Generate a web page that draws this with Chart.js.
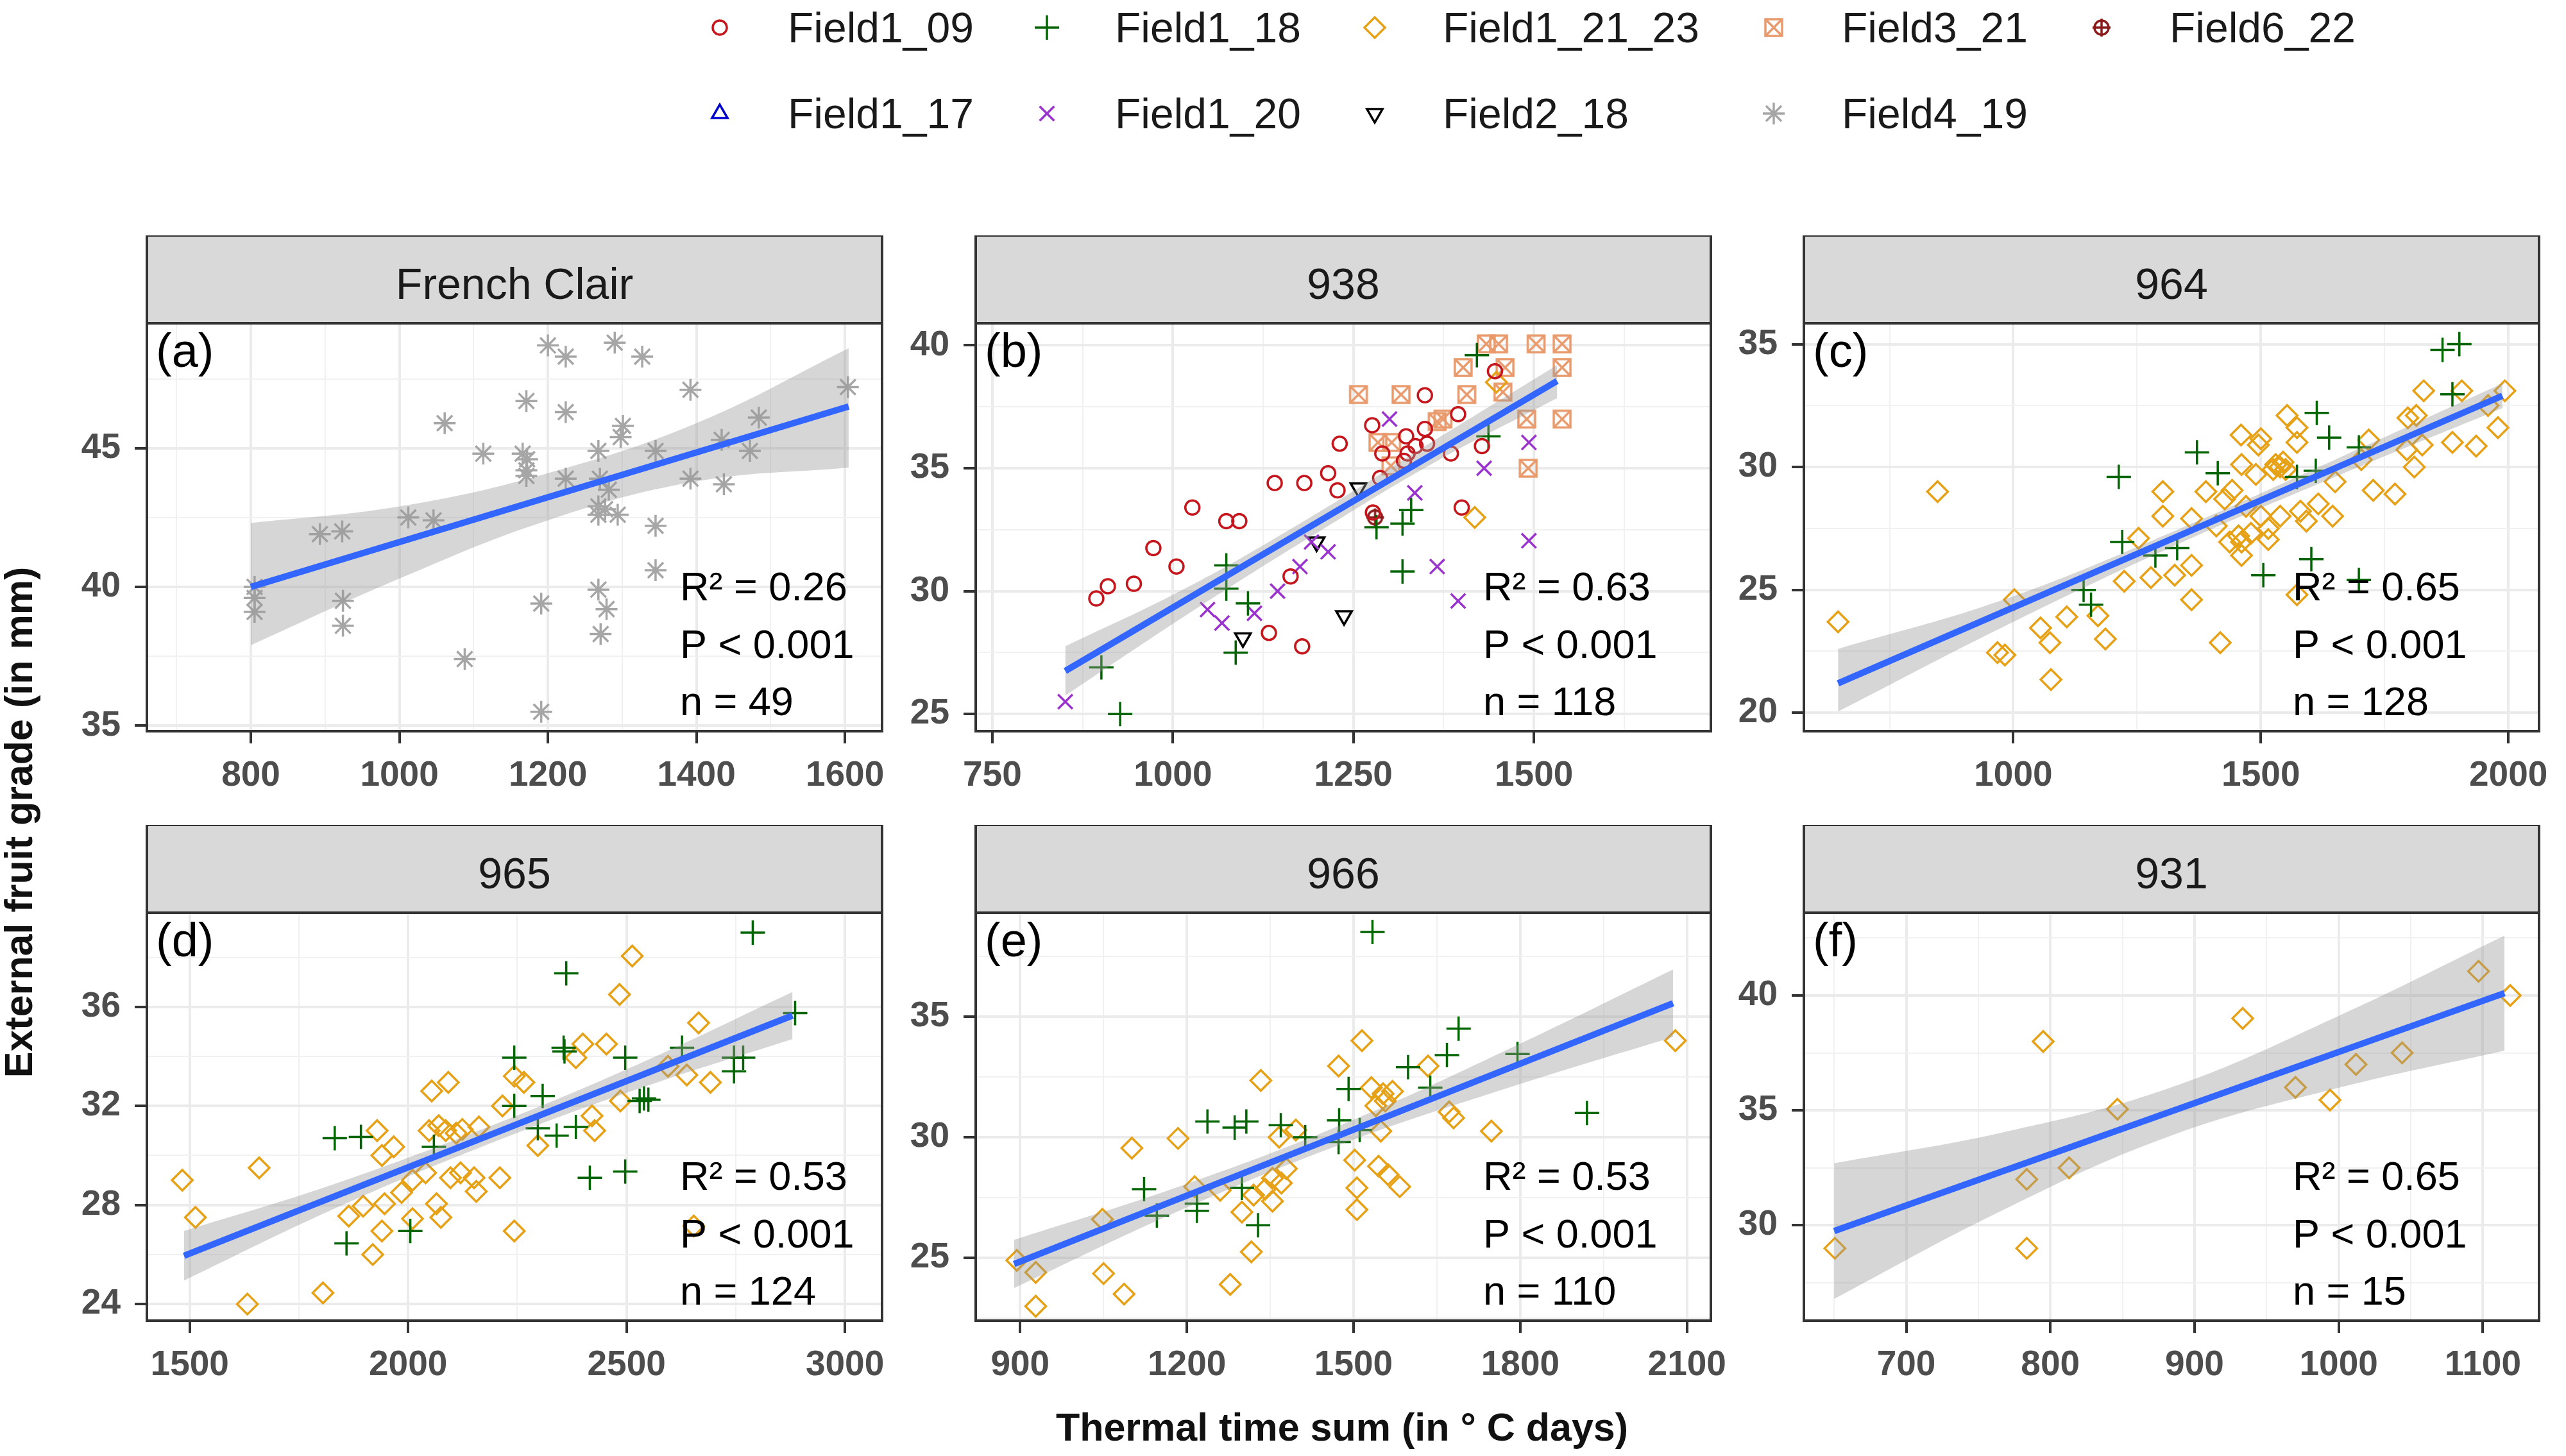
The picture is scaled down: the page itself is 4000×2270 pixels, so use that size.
<!doctype html>
<html>
<head>
<meta charset="utf-8">
<title>External fruit grade vs thermal time sum</title>
<script src="https://cdn.jsdelivr.net/npm/chart.js"></script>
<style>
  body { margin: 0; background: #fff; width: 4000px; height: 2270px; position: relative; overflow: hidden;
         font-family: "Liberation Sans", Arial, sans-serif; }
  canvas.panel { position: absolute; }
  .legsym { position: absolute; }
  .legtxt { position: absolute; font-size: 66px; color: #1a1a1a; line-height: 1; transform: translateY(-50%); white-space: nowrap; }
  .ytitle { position: absolute; font-weight: bold; font-size: 61px; color: #111; white-space: nowrap;
            transform: translate(-50%, -50%) rotate(-90deg); }
  .xtitle { position: absolute; font-weight: bold; font-size: 61px; color: #111; white-space: nowrap;
            transform: translate(-50%, -50%); }
</style>
</head>
<body>

<div class="ytitle" style="left:29px; top:1282px;">External fruit grade (in mm)</div>
<div class="xtitle" style="left:2092px; top:2225px;">Thermal time sum (in ° C days)</div>

<script>
// ---- data ----

// (a) French Clair
const a_Field4_19 = [[1200,48.7],[1224,48.3],[1290,48.8],[1327,48.3],[1392,47.1],[1604,47.2],[1171,46.7],[1224,46.3],
  [1061,45.9],[1301,45.8],[1298,45.4],[1484,46.1],[1113,44.8],[1166,44.8],[1172,44.6],[1171,44.2],[1171,44.0],
  [1268,44.9],[1345,44.9],[1472,44.9],[1434,45.3],[1224,43.9],[1270,43.9],[1392,43.9],[1437,43.7],[1282,43.5],
  [1268,42.9],[1268,42.6],[1294,42.6],[1277,42.8],[1345,42.2],[1012,42.5],[1046,42.4],[893,41.9],[923,42.0],
  [1345,40.6],[1268,39.9],[1279,39.2],[1271,38.3],[1191,39.4],[1088,37.4],[1191,35.5],[805,40.0],[805,39.6],
  [805,39.1],[924,39.5],[924,38.6]];
const a_fitX = [800, 1605];
const a_fitY = [40.0, 46.5];
const a_bandX = [800, 1000, 1200, 1400, 1605];
const a_bandLo = [37.9, 40.3, 42.4, 43.8, 44.3];
const a_bandHi = [42.3, 42.9, 44.1, 45.9, 48.6];
const a_stats = ['R² = 0.26', 'P < 0.001', 'n = 49'];

// (b) 938
const b_Field3_21 = [[1434,40.06],[1451,40.06],[1503,40.06],[1539,40.06],[1402,39.1],[1460,39.1],[1539,39.1],
  [1257,38.0],[1316,38.0],[1407,38.0],[1457,38.1],[1490,37.0],[1539,37.0],[1374,37.0],[1366,36.9],
  [1284,36.05],[1303,36.05],[1302,35.1],[1492,35.0]];
const b_Field1_09 = [[1446,38.95],[1349,37.97],[1395,37.2],[1276,36.75],[1349,36.6],[1231,36.0],[1323,36.3],
  [1336,35.9],[1352,36.0],[1325,35.6],[1290,35.6],[1385,35.6],[1428,35.9],[1320,35.3],[1287,34.6],[1215,34.8],
  [1141,34.4],[1182,34.4],[1228,34.1],[1400,33.4],[1277,33.2],[1027,33.4],[1074,32.85],[1092,32.85],[973,31.75],
  [1005,31.0],[910,30.2],[894,29.7],[946,30.3],[1163,30.6],[1133,28.3],[1179,27.75]];
const b_Field1_20 = [[1300,37.0],[1493,36.05],[1431,35.0],[1335,34.0],[1493,32.05],[1215,31.6],[1176,31.0],
  [1145,30.0],[1366,31.0],[1395,29.6],[1048,29.25],[1068,28.7],[1113,29.1],[1192,32.0],[851,25.5]];
const b_Field1_18 = [[1421,39.6],[1330,33.3],[1318,32.75],[1282,32.6],[1318,30.8],[1074,31.05],[1074,30.1],
  [1104,29.5],[1087,27.5],[901,26.9],[927,25.0],[1437,36.3]];
const b_Field2_18 = [[1257,34.2],[1199,32.0],[1237,29.0],[1097,28.1]];
const b_Field1_21_23 = [[1418,33.0],[1448,38.5]];
const b_Field6_22 = [[1280,33.0]];
const b_fitX = [851, 1532];
const b_fitY = [26.75, 38.55];
const b_bandX = [851, 1020, 1190, 1360, 1532];
const b_bandLo = [25.75, 29.05, 32.2, 35.2, 37.85];
const b_bandHi = [27.75, 30.15, 33.0, 36.1, 39.2];
const b_stats = ['R² = 0.63', 'P < 0.001', 'n = 118'];

// (c) 964
const c_Field1_18 = [[1867,34.77],[1901,35.0],[1887,32.96],[1613,32.2],[1638,31.2],[1698,30.8],[1371,30.6],
  [1413,29.75],[1213,29.6],[1573,29.6],[1611,29.85],[1220,26.95],[1287,26.4],[1331,26.7],[1505,25.6],
  [1602,26.25],[1698,25.4],[1157,24.4],[1142,25.0]];
const c_Field1_21_23 = [[847,29.0],[646,23.7],[1829,33.1],[1906,33.1],[1993,33.1],[1814,32.1],[1887,31.0],
  [1979,31.6],[1810,30.0],[1727,29.05],[1771,28.9],[1553,32.1],[1573,31.6],[1573,31.0],[1500,31.15],[1495,30.9],
  [1461,30.1],[1539,30.0],[1490,29.7],[1442,29.05],[1389,29.0],[1302,29.0],[1650,29.4],[1616,28.5],[1645,28.0],
  [1539,28.0],[1515,27.5],[1500,28.0],[1302,28.0],[1360,27.9],[1253,27.1],[1461,26.95],[1437,26.95],[1515,27.05],
  [1461,26.4],[1360,26.0],[1326,25.6],[1278,25.5],[1224,25.35],[1360,24.6],[1171,23.95],[1108,23.9],[1002,24.6],
  [1055,23.45],[1074,22.85],[1186,23.0],[983,22.35],[968,22.45],[1076,21.35],[1418,22.85],[1573,24.8],[1427,28.7],
  [1826,30.9],[1797,32.0],[1718,31.1],[1935,30.85],[1959,32.5],[1703,30.3],[1795,30.7],[1525,29.9],[1545,30.2],
  [1470,28.4],[1480,27.3],[1410,27.6],[1592,27.8],[1460,31.3],[1530,30.1],[1550,29.9],[1580,28.2],[1455,27.2]];
const c_fitX = [646, 1988];
const c_fitY = [21.2, 32.9];
const c_bandX = [646, 980, 1320, 1650, 1988];
const c_bandLo = [20.05, 23.5, 26.75, 29.6, 32.4];
const c_bandHi = [22.6, 24.6, 27.35, 30.3, 33.4];
const c_stats = ['R² = 0.65', 'P < 0.001', 'n = 128'];

// (d) 965
const d_Field1_18 = [[2789,39.0],[2362,37.35],[2886,35.75],[2356,34.35],[2358,34.2],[2243,33.95],[2497,33.95],
  [2627,34.35],[2746,33.95],[2767,33.95],[2746,33.4],[2308,32.4],[2243,32.0],[2540,32.3],[2530,32.2],[2550,32.25],
  [2384,31.15],[2297,31.1],[2340,30.8],[2059,30.35],[1892,30.75],[1832,30.7],[2416,29.1],[2497,29.35],
  [2005,26.95],[1859,26.45]];
const d_Field1_21_23 = [[2513,38.05],[2484,36.5],[2665,35.35],[2400,34.5],[2454,34.5],[2384,33.95],[2692,32.95],
  [2638,33.25],[2243,33.2],[2265,32.95],[2092,32.95],[2054,32.6],[2216,32.0],[2421,31.6],[2427,31.0],[1929,31.0],
  [2048,31.0],[2086,31.0],[2124,31.05],[2162,31.15],[1967,30.35],[1940,30.0],[2297,30.4],[1659,29.5],[1483,29.0],
  [2210,29.1],[2151,29.1],[2097,29.1],[2010,29.0],[2156,28.55],[2065,28.05],[1946,28.05],[1897,27.95],[1864,27.55],
  [2075,27.5],[2010,27.45],[1940,26.95],[2243,26.95],[1513,27.5],[1919,26.0],[1805,24.45],[1632,24.0],[2654,27.15],
  [2486,32.2],[2070,31.2],[2110,30.9],[2040,29.3],[2120,29.3],[1985,28.5],[2595,33.6]];
const d_fitX = [1487, 2880];
const d_fitY = [25.95, 35.65];
const d_bandX = [1487, 1830, 2180, 2530, 2880];
const d_bandLo = [24.95, 27.84, 30.43, 32.71, 34.7];
const d_bandHi = [26.95, 28.84, 31.13, 33.71, 36.6];
const d_stats = ['R² = 0.53', 'P < 0.001', 'n = 124'];

// (e) 966
const e_Field1_18 = [[1534,38.5],[1689,34.5],[1668,33.4],[1598,32.9],[1795,33.45],[1491,32.0],[1638,32.05],
  [1920,31.0],[1237,30.65],[1286,30.4],[1307,30.65],[1369,30.5],[1474,30.7],[1413,30.0],[1511,30.3],[1473,29.8],
  [1123,27.85],[1146,26.75],[1218,27.25],[1218,26.95],[1328,26.35],[1299,27.9]];
const e_Field1_21_23 = [[2079,34.0],[1515,34.0],[1473,32.95],[1634,32.95],[1333,32.35],[1532,32.05],[1553,31.8],
  [1557,31.5],[1672,31.05],[1748,30.25],[1184,29.95],[1101,29.55],[1396,30.3],[1366,30.0],[1549,30.25],[1502,29.05],
  [1545,28.8],[1562,28.45],[1583,27.95],[1506,27.9],[1506,27.0],[1379,28.7],[1354,28.3],[1341,27.85],[1354,27.35],
  [1260,27.8],[1299,26.9],[1214,27.95],[1048,26.6],[1316,25.25],[894,24.9],[928,24.4],[1050,24.35],[1087,23.5],
  [1278,23.9],[928,23.0],[1540,31.3],[1570,31.9],[1680,30.8],[1370,28.1],[1320,27.6]];
const e_fitX = [889, 2075];
const e_fitY = [24.75, 35.55];
const e_bandX = [889, 1190, 1480, 1780, 2075];
const e_bandLo = [23.75, 26.99, 29.73, 32.06, 34.15];
const e_bandHi = [25.75, 27.99, 30.53, 33.66, 36.95];
const e_stats = ['R² = 0.53', 'P < 0.001', 'n = 110'];

// (f) 931
const f_Field1_21_23 = [[650.5,29.0],[783.6,29.0],[783.6,32.0],[813,32.5],[795,38.0],[846.5,35.05],[933.4,39.0],
  [970,36.0],[994,35.45],[1012,37.0],[1044,37.5],[1097,41.05],[1119,40.0]];
const f_fitX = [650, 1115];
const f_fitY = [29.75, 40.1];
const f_bandX = [650, 766, 882, 998, 1115];
const f_bandLo = [26.8, 30.63, 33.86, 35.95, 37.6];
const f_bandHi = [32.7, 34.03, 35.96, 39.05, 42.6];
const f_stats = ['R² = 0.65', 'P < 0.001', 'n = 15'];

// axis ranges and breaks
const a_xRange = [660, 1650], a_yRange = [34.8, 49.5];
const a_xMajor = [800, 1000, 1200, 1400, 1600], a_xMinor = [700, 900, 1100, 1300, 1500];
const a_yMajor = [35, 40, 45], a_yMinor = [37.5, 42.5, 47.5];
const b_xRange = [727, 1745], b_yRange = [24.3, 40.9];
const b_xMajor = [750, 1000, 1250, 1500], b_xMinor = [875, 1125, 1375, 1625];
const b_yMajor = [25, 30, 35, 40], b_yMinor = [27.5, 32.5, 37.5];
const c_xRange = [577, 2062], c_yRange = [19.25, 35.85];
const c_xMajor = [1000, 1500, 2000], c_xMinor = [750, 1250, 1750];
const c_yMajor = [20, 25, 30, 35], c_yMinor = [22.5, 27.5, 32.5];
const d_xRange = [1402, 3085], d_yRange = [23.33, 39.8];
const d_xMajor = [1500, 2000, 2500, 3000], d_xMinor = [1750, 2250, 2750];
const d_yMajor = [24, 28, 32, 36], d_yMinor = [26, 30, 34, 38];
const e_xRange = [820, 2143], e_yRange = [22.4, 39.3];
const e_xMajor = [900, 1200, 1500, 1800, 2100], e_xMinor = [1050, 1350, 1650, 1950];
const e_yMajor = [25, 30, 35], e_yMinor = [22.5, 27.5, 32.5, 37.5];
const f_xRange = [629, 1139], f_yRange = [25.85, 43.6];
const f_xMajor = [700, 800, 900, 1000, 1100], f_xMinor = [650, 750, 850, 950, 1050];
const f_yMajor = [30, 35, 40], f_yMinor = [27.5, 32.5, 37.5, 42.5];

const legendRow1 = ['Field1_09', 'Field1_18', 'Field1_21_23', 'Field3_21', 'Field6_22'];
const legendRow2 = ['Field1_17', 'Field1_20', 'Field2_18', 'Field4_19'];

// ---- styling ----
Chart.defaults.font.family = '"Liberation Sans", Arial, sans-serif';

function squareCross(color) {
  const c = document.createElement('canvas');
  c.width = c.height = 32;
  const g = c.getContext('2d');
  g.strokeStyle = color; g.lineWidth = 3.5;
  g.strokeRect(3, 3, 26, 26);
  g.beginPath(); g.moveTo(4, 4); g.lineTo(28, 28); g.moveTo(28, 4); g.lineTo(4, 28); g.stroke();
  return c;
}
function circlePlus(color) {
  const c = document.createElement('canvas');
  c.width = c.height = 32;
  const g = c.getContext('2d');
  g.strokeStyle = color; g.lineWidth = 3.5;
  g.beginPath(); g.arc(16, 16, 11, 0, Math.PI * 2); g.stroke();
  g.beginPath(); g.moveTo(16, 2); g.lineTo(16, 30); g.moveTo(2, 16); g.lineTo(30, 16); g.stroke();
  return c;
}

const SERIES = {
  Field1_09:    { color: '#C4161C', style: 'circle',   r: 11 },
  Field1_18:    { color: '#006400', style: 'cross',    r: 19 },
  Field1_21_23: { color: '#E6A117', style: 'rectRot',  r: 16 },
  Field3_21:    { color: '#E99A6C', style: squareCross('#E99A6C'), r: 15 },
  Field6_22:    { color: '#8B1A1A', style: circlePlus('#8B1A1A'), r: 15 },
  Field1_17:    { color: '#0000CD', style: 'triangle', r: 14 },
  Field1_20:    { color: '#9A32CD', style: 'crossRot', r: 16 },
  Field2_18:    { color: '#000000', style: 'triangle', r: 14, rot: 180 },
  Field4_19:    { color: '#A6A6A6', style: 'star',     r: 17 },
};

// ---- layout ----
const AXW = 220, XAH = 110, STRIP = 137, PADR = 90;
const PANEL_W = 1146, PANEL_H = 636;
const COL_X = [229, 1521, 2812];
const ROW_Y = [504, 1423];

const panels = [
  { title: 'French Clair', tag: '(a)', col: 0, row: 0, statsOff: 315,
    series: { Field4_19: a_Field4_19 },
    fitX: a_fitX, fitY: a_fitY, bandX: a_bandX, bandLo: a_bandLo, bandHi: a_bandHi, stats: a_stats,
    xRange: a_xRange, yRange: a_yRange, xMajor: a_xMajor, xMinor: a_xMinor, yMajor: a_yMajor, yMinor: a_yMinor },
  { title: '938', tag: '(b)', col: 1, row: 0, statsOff: 355,
    series: { Field1_09: b_Field1_09, Field1_18: b_Field1_18, Field1_21_23: b_Field1_21_23, Field3_21: b_Field3_21,
              Field6_22: b_Field6_22, Field1_20: b_Field1_20, Field2_18: b_Field2_18 },
    fitX: b_fitX, fitY: b_fitY, bandX: b_bandX, bandLo: b_bandLo, bandHi: b_bandHi, stats: b_stats,
    xRange: b_xRange, yRange: b_yRange, xMajor: b_xMajor, xMinor: b_xMinor, yMajor: b_yMajor, yMinor: b_yMinor },
  { title: '964', tag: '(c)', col: 2, row: 0, statsOff: 384,
    series: { Field1_18: c_Field1_18, Field1_21_23: c_Field1_21_23 },
    fitX: c_fitX, fitY: c_fitY, bandX: c_bandX, bandLo: c_bandLo, bandHi: c_bandHi, stats: c_stats,
    xRange: c_xRange, yRange: c_yRange, xMajor: c_xMajor, xMinor: c_xMinor, yMajor: c_yMajor, yMinor: c_yMinor },
  { title: '965', tag: '(d)', col: 0, row: 1, statsOff: 315,
    series: { Field1_18: d_Field1_18, Field1_21_23: d_Field1_21_23 },
    fitX: d_fitX, fitY: d_fitY, bandX: d_bandX, bandLo: d_bandLo, bandHi: d_bandHi, stats: d_stats,
    xRange: d_xRange, yRange: d_yRange, xMajor: d_xMajor, xMinor: d_xMinor, yMajor: d_yMajor, yMinor: d_yMinor },
  { title: '966', tag: '(e)', col: 1, row: 1, statsOff: 355,
    series: { Field1_18: e_Field1_18, Field1_21_23: e_Field1_21_23 },
    fitX: e_fitX, fitY: e_fitY, bandX: e_bandX, bandLo: e_bandLo, bandHi: e_bandHi, stats: e_stats,
    xRange: e_xRange, yRange: e_yRange, xMajor: e_xMajor, xMinor: e_xMinor, yMajor: e_yMajor, yMinor: e_yMinor },
  { title: '931', tag: '(f)', col: 2, row: 1, statsOff: 384,
    series: { Field1_21_23: f_Field1_21_23 },
    fitX: f_fitX, fitY: f_fitY, bandX: f_bandX, bandLo: f_bandLo, bandHi: f_bandHi, stats: f_stats,
    xRange: f_xRange, yRange: f_yRange, xMajor: f_xMajor, xMinor: f_xMinor, yMajor: f_yMajor, yMinor: f_yMinor },
];

// strip, panel border, tag and stats text
const facetPlugin = {
  id: 'facet',
  afterDraw(chart, args, opts) {
    const { ctx, chartArea: ca } = chart;
    ctx.save();
    // strip
    ctx.fillStyle = '#D9D9D9';
    ctx.fillRect(ca.left, ca.top - STRIP, ca.right - ca.left, STRIP);
    ctx.lineWidth = 4;
    ctx.strokeStyle = '#333333';
    ctx.strokeRect(ca.left, ca.top - STRIP, ca.right - ca.left, STRIP);
    ctx.fillStyle = '#1A1A1A';
    ctx.font = '68px "Liberation Sans", Arial, sans-serif';
    ctx.textAlign = 'center';
    ctx.textBaseline = 'middle';
    ctx.fillText(opts.title, (ca.left + ca.right) / 2, ca.top - STRIP / 2 + 12);
    // panel border
    ctx.strokeRect(ca.left, ca.top, ca.right - ca.left, ca.bottom - ca.top);
    // tag
    ctx.fillStyle = '#000';
    ctx.textAlign = 'left';
    ctx.font = '74px "Liberation Sans", Arial, sans-serif';
    ctx.fillText(opts.tag, ca.left + 14, ca.top + 48);
    // stats
    ctx.font = '63px "Liberation Sans", Arial, sans-serif';
    const offs = [221, 131, 42];
    opts.stats.forEach((s, i) => ctx.fillText(s, ca.right - opts.statsOff, ca.bottom - offs[i]));
    ctx.restore();
  }
};

function axis(range, major, minor, isX) {
  const all = major.concat(minor).sort((p, q) => p - q);
  const isMajor = c => c.tick && major.includes(c.tick.value);
  return {
    type: 'linear',
    position: isX ? 'bottom' : 'left',
    min: range[0], max: range[1],
    afterBuildTicks: s => { s.ticks = all.map(v => ({ value: v })); },
    afterFit: s => { if (isX) s.height = XAH; else s.width = AXW; },
    border: { display: false },
    grid: {
      color: c => isMajor(c) ? '#EBEBEB' : '#F1F1F1',
      lineWidth: c => isMajor(c) ? 4 : 2,
      drawTicks: true,
      tickLength: 19,
      tickWidth: 4,
      tickColor: c => isMajor(c) ? '#333333' : 'rgba(0,0,0,0)',
    },
    ticks: {
      autoSkip: false, maxRotation: 0, minRotation: 0,
      padding: isX ? 18 : 22,
      color: '#4D4D4D',
      font: { size: 55, weight: 'bold' },
      callback: v => major.includes(v) ? String(v) : '',
    },
  };
}

panels.forEach(p => {
  const cv = document.createElement('canvas');
  cv.className = 'panel';
  cv.width = AXW + PANEL_W + PADR;
  cv.height = STRIP + PANEL_H + XAH;
  cv.style.left = (COL_X[p.col] - AXW) + 'px';
  cv.style.top = (ROW_Y[p.row] - STRIP) + 'px';
  document.body.appendChild(cv);

  const datasets = [
    { type: 'line', data: p.fitX.map((x, i) => ({ x, y: p.fitY[i] })), borderColor: '#3366FF',
      borderWidth: 10, pointRadius: 0, fill: false, tension: 0, order: 0 },
    { type: 'line', data: p.bandX.map((x, i) => ({ x, y: p.bandLo[i] })), borderWidth: 0,
      borderColor: 'rgba(0,0,0,0)', pointRadius: 0, fill: false, tension: 0.4, order: 1 },
    { type: 'line', data: p.bandX.map((x, i) => ({ x, y: p.bandHi[i] })), borderWidth: 0,
      borderColor: 'rgba(0,0,0,0)', pointRadius: 0, fill: '-1', backgroundColor: 'rgba(153,153,153,0.4)',
      tension: 0.4, order: 1 },
  ];
  Object.entries(p.series).forEach(([name, pts]) => {
    const st = SERIES[name];
    datasets.push({
      type: 'scatter', label: name,
      data: pts.map(([x, y]) => ({ x, y })),
      pointStyle: st.style, pointRadius: st.r, pointRotation: st.rot || 0,
      borderColor: st.color, backgroundColor: 'rgba(0,0,0,0)', pointBorderWidth: 3.5, order: 2,
    });
  });

  new Chart(cv, {
    type: 'scatter',
    data: { datasets },
    options: {
      responsive: false, animation: false, devicePixelRatio: 1, events: [],
      layout: { padding: { top: STRIP, right: PADR, left: 0, bottom: 0 } },
      scales: {
        x: axis(p.xRange, p.xMajor, p.xMinor, true),
        y: axis(p.yRange, p.yMajor, p.yMinor, false),
      },
      plugins: {
        legend: { display: false }, tooltip: { enabled: false },
        facet: { title: p.title, tag: p.tag, stats: p.stats, statsOff: p.statsOff },
      },
    },
    plugins: [facetPlugin],
  });
});

// ---- legend (two rows, symbols drawn with Chart.js point helper) ----
const LEG_X = [1122, 1632, 2143, 2765, 3276];
const LEG_Y = [43, 177];
[legendRow1, legendRow2].forEach((row, ri) => {
  row.forEach((name, ci) => {
    const st = SERIES[name];
    const c = document.createElement('canvas');
    c.width = c.height = 60;
    c.className = 'legsym';
    c.style.left = (LEG_X[ci] - 30) + 'px';
    c.style.top = (LEG_Y[ri] - 30) + 'px';
    document.body.appendChild(c);
    const g = c.getContext('2d');
    g.strokeStyle = st.color; g.fillStyle = 'rgba(0,0,0,0)'; g.lineWidth = 3.5;
    Chart.helpers.drawPoint(g, { pointStyle: st.style, radius: st.r, rotation: st.rot || 0, borderWidth: 3.5 }, 30, 30);
    const t = document.createElement('div');
    t.className = 'legtxt';
    t.textContent = name;
    t.style.left = (LEG_X[ci] + 106) + 'px';
    t.style.top = LEG_Y[ri] + 'px';
    document.body.appendChild(t);
  });
});
</script>
</body>
</html>
